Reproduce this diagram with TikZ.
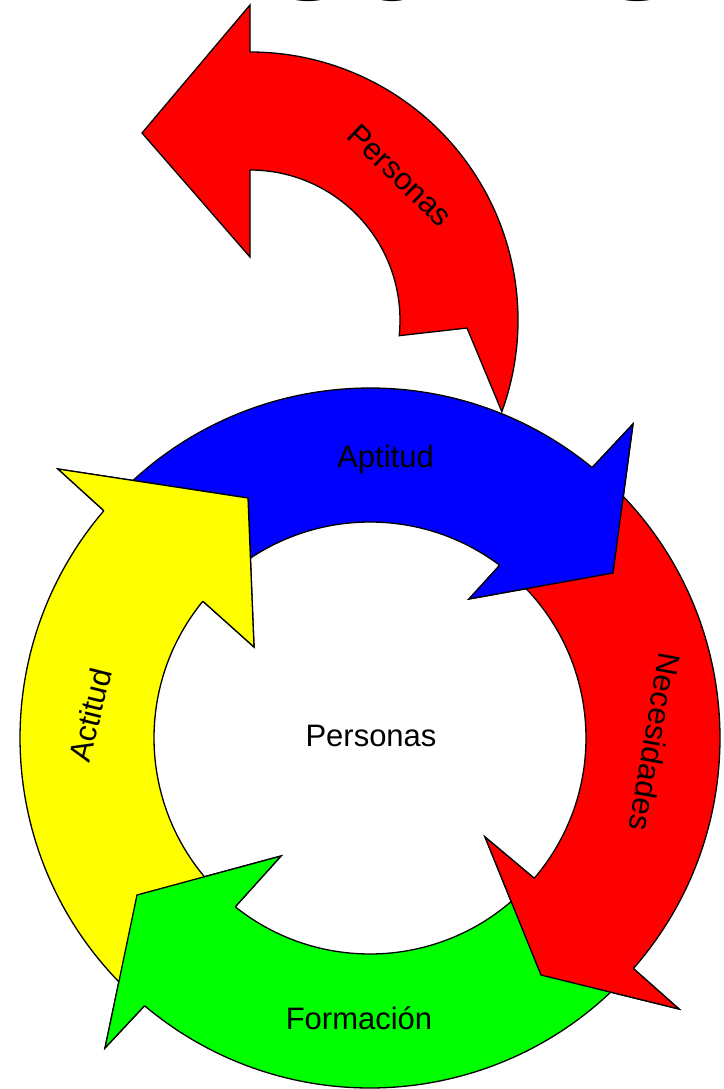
\documentclass[tikz,border=0pt]{standalone}
\usepackage{fontspec}
\setmainfont{Liberation Sans}
\usepackage{tikz}

\definecolor{rojo}{RGB}{255,0,0}
\definecolor{azul}{RGB}{0,0,255}
\definecolor{verde}{RGB}{0,255,0}
\definecolor{amarillo}{RGB}{255,255,0}

\begin{document}
\begin{tikzpicture}[x=1pt, y=1pt,
        flecha/.style={draw=black, line width=1.3pt, line join=miter},
        etiqueta/.style={font=\fontsize{31}{36}\selectfont, black, inner sep=0pt}]
        \useasboundingbox (0,0) rectangle (723,-1089);
        \clip (0,0) rectangle (723,-1089);

        \node[anchor=base west, inner sep=0pt, font=\fontsize{116}{116}\selectfont] (titulo) at (31,-1) {PERSONAS};

        \begin{scope}[shift={(370,-738)}]
        % Aptitud
        \coordinate (apt1) at (50.6:350);
        \coordinate (apt2) at (263,314);
        \coordinate (apt3) at (243,165);
        \coordinate (apt4) at (99,139);
        \coordinate (apt5) at (53.1:216);
        \draw[flecha, fill=azul] (134:350) arc[start angle=134, end angle=50.6, radius=350]
            -- (apt2) -- (apt3) -- (apt4) -- (apt5) arc[start angle=53.1, end angle=134, radius=216] -- cycle;

        % Necesidades
        \coordinate (nec1) at (-41.2:350);
        \coordinate (nec2) at (309,-271);
        \coordinate (nec3) at (171,-237);
        \coordinate (nec4) at (115,-99);
        \coordinate (nec5) at (-40.5:216);
        \draw[flecha, fill=rojo] (47:350) arc[start angle=47, end angle=-41.2, radius=350]
            -- (nec2) -- (nec3) -- (nec4) -- (nec5) arc[start angle=-40.5, end angle=47, radius=216] -- cycle;

        % Formacion
        \coordinate (for1) at (-130.1:350);
        \coordinate (for2) at (-265,-310);
        \coordinate (for3) at (-233,-157);
        \coordinate (for4) at (-89,-118);
        \coordinate (for5) at (-128.6:216);
        \draw[flecha, fill=verde] (-43:350) arc[start angle=-43, end angle=-130.1, radius=350]
            -- (for2) -- (for3) -- (for4) -- (for5) arc[start angle=-128.6, end angle=-43, radius=216] -- cycle;

        % Actitud
        \coordinate (act1) at (139.5:350);
        \coordinate (act2) at (-312,269);
        \coordinate (act3) at (-122,240);
        \coordinate (act4) at (-116,91);
        \coordinate (act5) at (140.7:216);
        \draw[flecha, fill=amarillo] (226:350) arc[start angle=226, end angle=139.5, radius=350]
            -- (act2) -- (act3) -- (act4) -- (act5) arc[start angle=140.7, end angle=226, radius=216] -- cycle;
        \end{scope}

        % puntas encima
        \draw[flecha, fill=azul] (apt1) -- (apt2) -- (apt3) -- (apt4) -- (apt5);
        \draw[flecha, fill=rojo] (nec1) -- (nec2) -- (nec3) -- (nec4) -- (nec5);
        \draw[flecha, fill=verde] (for1) -- (for2) -- (for3) -- (for4) -- (for5);
        \draw[flecha, fill=amarillo] (act1) -- (act2) -- (act3) -- (act4) -- (act5);

        \begin{scope}[shift={(250,-320)}]
        \draw[flecha, fill=rojo] (-20:268) arc[start angle=-20, end angle=90, radius=268]
            -- (0,315) -- (-108,187) -- (0,63) -- (0,150) arc[start angle=90, end angle=-6, radius=150]
            -- (217,-8) -- cycle;
        \end{scope}

        \node[etiqueta, rotate=-44] (personasArriba) at (400,-175) {Personas};
        \node[etiqueta, anchor=base] (aptitud) at (385.5,-467) {Aptitud};
        \node[etiqueta, rotate=-100] (necesidades) at (655,-742) {Necesidades};
        \node[etiqueta, anchor=base] (formacion) at (359,-1029) {Formación};
        \node[etiqueta, rotate=76] (actitud) at (90,-715) {Actitud};
        \node[etiqueta, anchor=base] (centro) at (371,-746) {Personas};
    \end{tikzpicture}
\end{document}
